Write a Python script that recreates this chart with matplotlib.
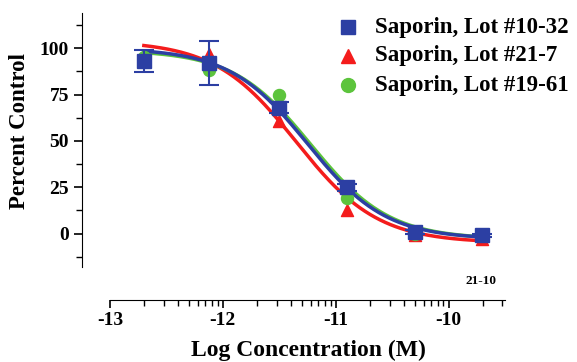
import numpy as np
import matplotlib
matplotlib.use('Agg')
import matplotlib.pyplot as plt
from matplotlib.ticker import FixedLocator

plt.rcParams['font.family'] = ['Liberation Serif', 'DejaVu Serif']
plt.rcParams['font.weight'] = 'bold'

# data
logconc = [-12.7, -12.12, -11.5, -10.9, -10.3, -9.7]
lot_10_32 = [93, 92, 68, 25, 1, -1]
lot_10_32_err = [6, 12, 3, 2, 1, 1]
lot_21_7 = [96, 97, 61, 13, -1, -3]
lot_19_61 = [95, 88, 75, 19, 0, -1]

# sigmoid fit parameters (top, bottom, logIC50, hill)
fit_10_32 = (100, -3, -11.25, 1.25)
fit_21_7 = (104, -5, -11.35, 1.2)
fit_19_61 = (99, -3, -11.22, 1.25)

labels = ['Saporin, Lot #10-32', 'Saporin, Lot #21-7', 'Saporin, Lot #19-61']
blue = '#2c3fa3'
red = '#f41c1c'
green = '#5cc43c'


def sigmoide(x, p):
    top, bottom, ic50, hill = p
    return bottom + (top - bottom) / (1 + 10 ** ((x - ic50) * hill))


W, H = 577, 362
fig = plt.figure(figsize=(W/100, H/100), dpi=100)
ax = fig.add_axes([110/W, 1-267/H, 395/W, 254/H])

xx = np.linspace(logconc[0], logconc[-1], 200)
ax.plot(xx, sigmoide(xx, fit_21_7), color=red, lw=2.5, zorder=2)
ax.plot(xx, sigmoide(xx, fit_19_61), color=green, lw=2.5, zorder=2)
ax.plot(xx, sigmoide(xx, fit_10_32), color=blue, lw=2.5, zorder=3)

ax.scatter(logconc, lot_21_7, marker='^', s=75, color=red, zorder=4)
ax.scatter(logconc, lot_19_61, marker='o', s=75, color=green, zorder=4)
ax.errorbar(logconc, lot_10_32, yerr=lot_10_32_err, fmt='s', ms=10,
            color=blue, ecolor=blue, elinewidth=1.5, capsize=7, capthick=1.5, zorder=5)

# legende faite a la main
marqueurs = ['s', '^', 'o']
couleurs = [blue, red, green]
for i in range(3):
    yy = 1 - (27 + 29*i) / H
    fig.lines.append(plt.Line2D([348/W], [yy], marker=marqueurs[i], ms=10,
                                color=couleurs[i], ls='none', transform=fig.transFigure))
    fig.text(375/W, yy, labels[i], fontsize=16.5, fontweight='bold', va='center', ha='left')

ax.set_xlim(-13, -9.5)
ax.set_ylim(-18, 119)

for s in ['top', 'right']:
    ax.spines[s].set_visible(False)
ax.spines['left'].set_position(('outward', 20.5))
ax.spines['bottom'].set_position(('outward', 23.5))

ax.set_yticks([0, 25, 50, 75, 100])
ax.yaxis.set_minor_locator(FixedLocator([-12.5, 12.5, 37.5, 62.5, 87.5, 112.5]))
ax.set_xticks([-13, -12, -11, -10])
mineurs = []
for d in [-13, -12, -11, -10]:
    for k in range(2, 10):
        v = d + np.log10(k)
        if v <= -9.5:
            mineurs.append(v)
ax.xaxis.set_minor_locator(FixedLocator(mineurs))
ax.set_xticklabels(['-13', '-12', '-11', '-10'])
ax.tick_params(which='major', length=6, width=1.2, labelsize=14, pad=3)
ax.tick_params(which='minor', length=4, width=1)
for t in ax.get_xticklabels() + ax.get_yticklabels():
    t.set_fontweight('bold')

fig.text(20/W, 1-131/H, 'Percent Control', fontsize=16.5, fontweight='bold',
         rotation=90, ha='center', va='center')
fig.text(308/W, 1-350/H, 'Log Concentration (M)', fontsize=17, fontweight='bold',
         ha='center', va='center')
ax.text(-9.71, -25.5, '21-10', fontsize=9.5, fontweight='bold', ha='center', va='center')

fig.savefig('out.png', dpi=100)
